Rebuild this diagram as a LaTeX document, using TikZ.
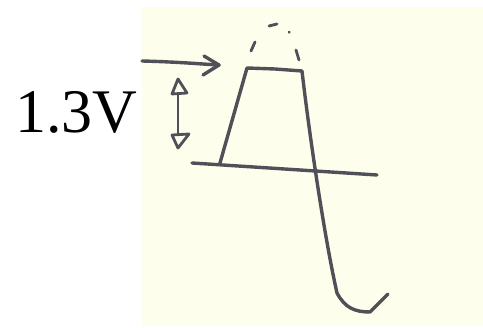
\documentclass[tikz,border=0pt]{standalone}
\usepackage{fontspec}
\setmainfont{Liberation Serif}
\definecolor{paper}{HTML}{FEFEEC}
\definecolor{ink}{HTML}{505058}
\begin{document}
\begin{tikzpicture}[x=1pt,y=-1pt,
  pen/.style={draw=ink,line width=3.4pt,line cap=round,line join=round},
  thinpen/.style={draw=ink,line width=2.8pt,line cap=round,line join=round}]
\useasboundingbox (0,0) rectangle (483,328);
\fill[white] (0,0) rectangle (483,328);
\fill[paper] (142,7) rectangle (483,326);
% label
\node[anchor=base west,inner sep=0pt,font=\fontsize{62}{62}\selectfont] (lbl) at (15,133) {1.3V};
% horizontal arrow
\draw[pen] (142,61) .. controls (180,62) and (200,64) .. (219,65);
\draw[pen] (204,56) -- (219,65) -- (203,75);
% double arrow
\draw[thinpen] (178,80) -- (178,147);
\draw[thinpen,fill=paper] (178,79) -- (172,94) -- (187,93) -- cycle;
\draw[thinpen,fill=paper] (172,135) -- (189,134) -- (178,148) -- cycle;
% baseline
\draw[pen] (192,163) -- (377,175);
% waveform
\draw[pen] (220,163) -- (247,68) -- (275,69) -- (302,71)
  .. controls (310,140) and (325,240) .. (337,293)
  .. controls (345,308) and (355,312) .. (370,312) -- (388,294);
% dashed clip
\draw[thinpen] (251,51) -- (255,42);
\draw[thinpen] (269,26) -- (277,24);
\draw[thinpen] (289,32) -- (289.5,32.5);
\draw[thinpen] (296,50) -- (299,60);
\end{tikzpicture}
\end{document}
